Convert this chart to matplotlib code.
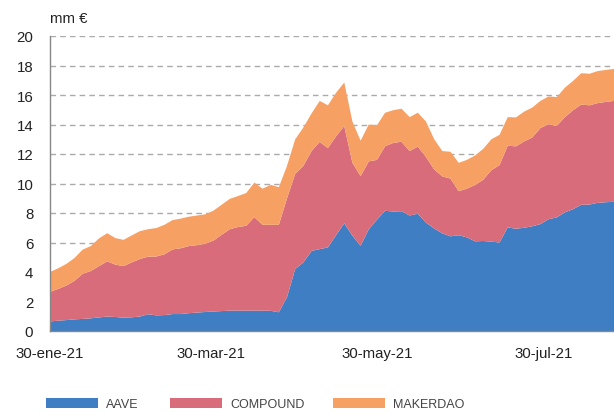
import matplotlib
matplotlib.use('Agg')
import matplotlib.pyplot as plt
from matplotlib.patches import Patch
import pandas as pd

# datos cada 3 dias, 30-ene-21 a 25-ago-21 (mm €)
dates = pd.date_range('2021-01-30', periods=70, freq='3D')

aave = [0.65, 0.70, 0.74, 0.79, 0.82, 0.86, 0.92, 0.98, 0.95, 0.90,
        0.93, 0.98, 1.14, 1.06, 1.08, 1.15, 1.15, 1.21, 1.25, 1.29,
        1.32, 1.35, 1.38, 1.38, 1.38, 1.38, 1.38, 1.37, 1.27, 2.30,
        4.20, 4.65, 5.43, 5.55, 5.67, 6.50, 7.30, 6.46, 5.78, 6.90,
        7.55, 8.15, 8.10, 8.12, 7.83, 7.95, 7.35, 6.95, 6.62, 6.42,
        6.49, 6.35, 6.08, 6.10, 6.06, 6.00, 7.03, 6.93, 7.00, 7.10,
        7.25, 7.58, 7.70, 8.05, 8.26, 8.56, 8.57, 8.69, 8.73, 8.76]

compound = [2.00, 2.15, 2.34, 2.61, 3.06, 3.21, 3.48, 3.74, 3.55, 3.50,
            3.72, 3.90, 3.90, 3.99, 4.12, 4.38, 4.46, 4.55, 4.57, 4.63,
            4.81, 5.17, 5.52, 5.67, 5.75, 6.34, 5.82, 5.83, 5.93, 6.70,
            6.45, 6.55, 6.77, 7.27, 6.73, 6.70, 6.60, 4.94, 4.72, 4.60,
            4.05, 4.38, 4.65, 4.71, 4.37, 4.55, 4.45, 4.00, 3.86, 3.91,
            2.99, 3.30, 3.82, 4.15, 4.84, 5.25, 5.53, 5.59, 5.85, 6.02,
            6.51, 6.44, 6.20, 6.45, 6.71, 6.79, 6.73, 6.76, 6.80, 6.84]

makerdao = [1.35, 1.40, 1.47, 1.55, 1.64, 1.69, 1.88, 1.91, 1.80, 1.78,
            1.83, 1.89, 1.86, 1.93, 2.00, 1.99, 2.01, 1.99, 2.01, 1.99,
            2.03, 2.04, 2.06, 2.10, 2.22, 2.34, 2.45, 2.71, 2.55, 2.20,
            2.35, 2.60, 2.55, 2.78, 2.90, 2.95, 2.95, 2.80, 2.40, 2.50,
            2.35, 2.27, 2.22, 2.24, 2.30, 2.30, 2.40, 2.05, 1.72, 1.82,
            1.92, 1.95, 2.00, 2.10, 2.10, 2.05, 1.94, 1.96, 2.02, 2.03,
            1.84, 1.88, 1.96, 2.00, 1.99, 2.13, 2.14, 2.17, 2.17, 2.17]

labels = ['AAVE', 'COMPOUND', 'MAKERDAO']
colors = ['#3f7ec2', '#d86c7b', '#f7a063']

tick_dates = ['2021-01-30', '2021-03-30', '2021-05-30', '2021-07-30']
tick_labels = ['30-ene-21', '30-mar-21', '30-may-21', '30-jul-21']

plt.rcParams['font.family'] = ['Liberation Sans', 'DejaVu Sans']

fig = plt.figure(figsize=(6.14, 4.14), dpi=100)
ax = fig.add_axes([50 / 614, 82 / 414, 564 / 614, 295 / 414])

ax.stackplot(dates, aave, compound, makerdao, colors=colors, lw=0)

ax.set_xlim(dates[0], dates[-1])
ax.set_ylim(0, 20)
ax.set_yticks(range(0, 21, 2))
ax.set_xticks(pd.to_datetime(tick_dates))
ax.set_xticklabels(tick_labels)

ax.yaxis.grid(True, ls=(0, (4, 3)), color='#aaaaaa', lw=1)
ax.set_axisbelow(True)
for s in ['top', 'right']:
    ax.spines[s].set_visible(False)
for s in ['left', 'bottom']:
    ax.spines[s].set_color('#888888')
    ax.spines[s].set_linewidth(1)

ax.tick_params(axis='y', length=0, pad=12, labelsize=10.8, labelcolor='#222222')
ax.tick_params(axis='x', direction='in', length=4, color='#888888',
               pad=11, labelsize=10.8, labelcolor='#222222')

fig.text(50 / 614, 1 - 19 / 414, 'mm €', ha='left', va='center',
         fontsize=10.8, color='#222222')

# leyenda abajo
legend_x = [46, 170, 333]
for c, lab, x0 in zip(colors, labels, legend_x):
    fig.legend([Patch(facecolor=c, edgecolor='none')], [lab], loc='center left',
               bbox_to_anchor=(x0 / 614, 1 - 405 / 414), frameon=False,
               handlelength=4.16, handleheight=0.9, handletextpad=0.64,
               borderpad=0, borderaxespad=0, fontsize=9, labelcolor='#444444')

fig.savefig('out.png', dpi=100)
